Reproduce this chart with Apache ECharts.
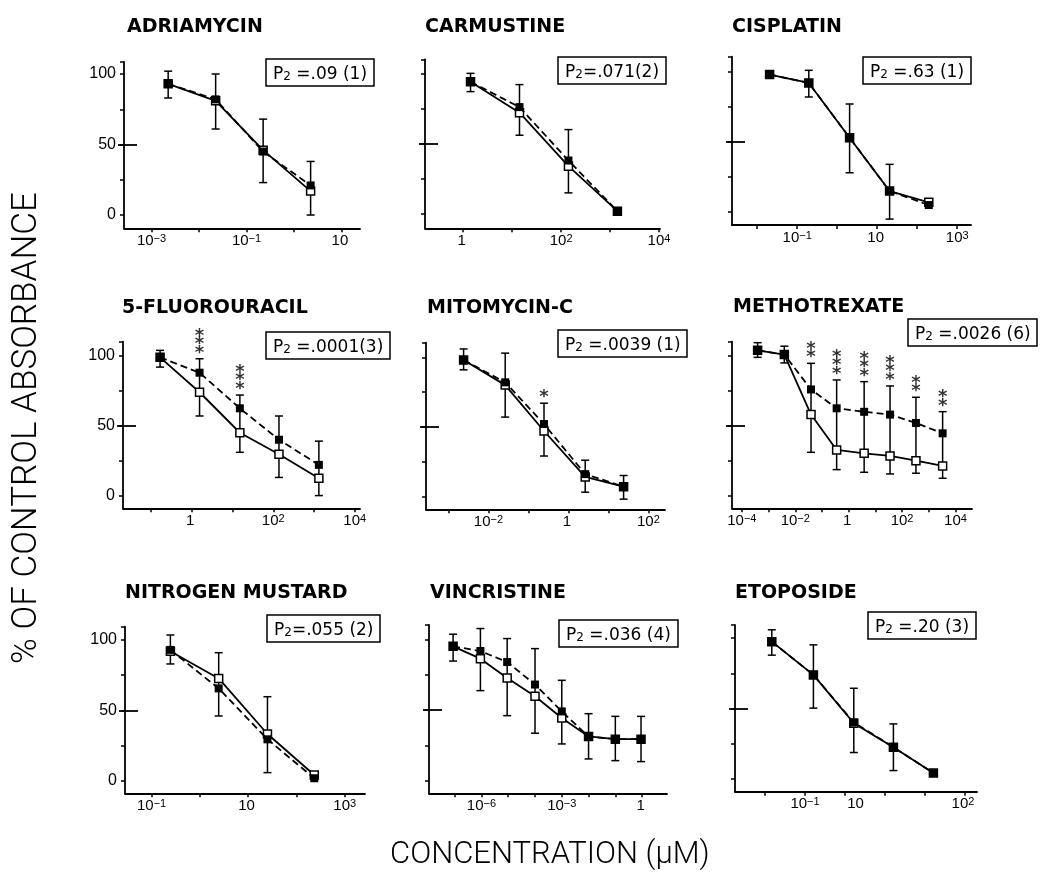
<!DOCTYPE html>
<html><head><meta charset="utf-8">
<script src="https://cdn.jsdelivr.net/npm/echarts@6/dist/echarts.min.js"></script>
<style>html,body{margin:0;padding:0;background:#fff}#c{width:1042px;height:874px}</style>
</head><body><div id="c"></div>
<script>
// ---------------- DATA ----------------
const drugNames = ['ADRIAMYCIN','CARMUSTINE','CISPLATIN','5-FLUOROURACIL','MITOMYCIN-C','METHOTREXATE','NITROGEN MUSTARD','VINCRISTINE','ETOPOSIDE'];
const pValueTexts = [' =.09 (1)','=.071(2)',' =.63 (1)',' =.0001(3)',' =.0039 (1)',' =.0026 (6)','=.055 (2)',' =.036 (4)',' =.20 (3)'];
const yTickValues = [0, 25, 50, 75, 100];
const yLabelValues = [0, 50, 100];

// x values are log10 of concentration (µM)
const adriamycinLogConc = [-2.65, -1.65, -0.65, 0.35];
const adriamycinFilled  = [93, 82, 45, 21];
const adriamycinOpen    = [93, 81, 46, 17];
const adriamycinErrLow  = [83, 61, 23, 0];
const adriamycinErrHigh = [102, 100, 68, 38];
const adriamycinStars   = [0, 0, 0, 0];
const adriamycinTicks   = [-3, -2, -1, 0, 1];
const adriamycinLabelAt = [-3, -1, 1];
const adriamycinLabels  = ['10^-3', '10^-1', '10'];

const carmustineLogConc = [0.15, 1.15, 2.15, 3.15];
const carmustineFilled  = [94, 76, 38, 2];
const carmustineOpen    = [94, 72, 34, 2];
const carmustineErrLow  = [87, 56, 15, null];
const carmustineErrHigh = [100, 92, 60, null];
const carmustineStars   = [0, 0, 0, 0];
const carmustineTicks   = [0, 1, 2, 3, 4];
const carmustineLabelAt = [0, 2, 4];
const carmustineLabels  = ['1', '10^2', '10^4'];

const cisplatinLogConc = [-1.69, -0.71, 0.31, 1.31, 2.29];
const cisplatinFilled  = [98, 92, 53, 15, 5];
const cisplatinOpen    = [98, 92, 53, 15, 7];
const cisplatinErrLow  = [null, 82, 28, -5, null];
const cisplatinErrHigh = [null, 101, 77, 34, null];
const cisplatinStars   = [0, 0, 0, 0, 0];
const cisplatinTicks   = [-2, -1, 0, 1, 2, 3];
const cisplatinLabelAt = [-1, 1, 3];
const cisplatinLabels  = ['10^-1', '10', '10^3'];

const fluorouracilLogConc = [-0.78, 0.19, 1.18, 2.14, 3.12];
const fluorouracilFilled  = [99, 88, 62.5, 40, 22];
const fluorouracilOpen    = [99, 74, 45, 29.6, 12.4];
const fluorouracilErrLow  = [92, 57, 31, 13, 0];
const fluorouracilErrHigh = [104, 98, 72, 57, 39];
const fluorouracilStars   = [0, 3, 3, 0, 0];
const fluorouracilTicks   = [-1, 0, 1, 2, 3, 4];
const fluorouracilLabelAt = [0, 2, 4];
const fluorouracilLabels  = ['1', '10^2', '10^4'];

const mitomycinLogConc = [-2.62, -1.58, -0.61, 0.42, 1.38];
const mitomycinFilled  = [98, 82, 52, 16, 7];
const mitomycinOpen    = [98, 80, 47, 14, 7];
const mitomycinErrLow  = [91, 57, 29, 3, -2];
const mitomycinErrHigh = [106, 103, 67, 26, 15];
const mitomycinStars   = [0, 0, 1, 0, 0];
const mitomycinTicks   = [-3, -2, -1, 0, 1, 2];
const mitomycinLabelAt = [-2, 0, 2];
const mitomycinLabels  = ['10^-2', '1', '10^2'];

const methotrexateLogConc = [-3.41, -2.41, -1.41, -0.45, 0.58, 1.55, 2.52, 3.52];
const methotrexateFilled  = [104, 101, 76, 62.5, 60, 58, 52, 44.6];
const methotrexateOpen    = [104, 101, 58, 32.7, 30.3, 28.4, 25, 21.2];
const methotrexateErrLow  = [99, 95, 31, 18.6, 16.7, 15.5, 16, 12.4];
const methotrexateErrHigh = [109.5, 107, 94.7, 82.8, 81.6, 78.5, 70.4, 60.1];
const methotrexateStars   = [0, 0, 2, 3, 3, 3, 2, 2];
const methotrexateTicks   = [-4, -3, -2, -1, 0, 1, 2, 3, 4];
const methotrexateLabelAt = [-4, -2, 0, 2, 4];
const methotrexateLabels  = ['10^-4', '10^-2', '1', '10^2', '10^4'];

const mustardLogConc = [-0.61, 0.39, 1.40, 2.37];
const mustardFilled  = [93, 65.6, 29.4, 1.7];
const mustardOpen    = [92, 72.7, 33.2, 4];
const mustardErrLow  = [83, 46, 5.7, null];
const mustardErrHigh = [103.6, 91, 59.7, null];
const mustardStars   = [0, 0, 0, 0];
const mustardTicks   = [-1, 0, 1, 2, 3];
const mustardLabelAt = [-1, 1, 3];
const mustardLabels  = ['10^-1', '10', '10^3'];

const vincristineLogConc = [-7.06, -6.04, -5.04, -4, -3, -2, -1, -0.04];
const vincristineFilled  = [95, 91.7, 83.9, 68, 49, 31.3, 29.4, 29.4];
const vincristineOpen    = [95, 86.3, 72.7, 59.7, 44.3, 31.3, 29.4, 29.4];
const vincristineErrLow  = [84.6, 63.7, 46, 33.6, 26, 15.4, 14.2, 13.5];
const vincristineErrHigh = [103.6, 107.6, 100.5, 93.4, 71, 47.4, 45.5, 45.5];
const vincristineStars   = [0, 0, 0, 0, 0, 0, 0, 0];
const vincristineTicks   = [-7, -6, -5, -4, -3, -2, -1, 0];
const vincristineLabelAt = [-6, -3, 0];
const vincristineLabels  = ['10^-6', '10^-3', '1'];

const etoposideLogConc = [-1.83, -0.79, 0.22, 1.21, 2.21];
const etoposideFilled  = [97.6, 74, 40.2, 22.7, 4.3];
const etoposideOpen    = [97.6, 74, 39.7, 22.7, 4.3];
const etoposideErrLow  = [88, 50.4, 18.9, 6.1, null];
const etoposideErrHigh = [106, 95.3, 64.5, 39.2, null];
const etoposideStars   = [0, 0, 0, 0, 0];
const etoposideTicks   = [-2, -1, 0, 1, 2, 3];
const etoposideLabelAt = [-1, 0.3, 2.95];
const etoposideLabels  = ['10^-1', '10', '10^2'];

// ---------------- LAYOUT (pixels / axis extents) ----------------
const layout = [
  {l:124, t:62,    r:360, b:228.3, yMin:-9.4,  yMax:108.5, xMin:-3.58, xMax:1.39, tx:127, ty:18,  bx:266, by:62},
  {l:425, t:59.3,  r:660, b:228.3, yMin:-10.2, yMax:110,   xMin:-0.78, xMax:4.02, tx:425, ty:18,  bx:558, by:60},
  {l:732, t:56.7,  r:971, b:225,   yMin:-9.2,  yMax:110.7, xMin:-2.63, xMax:3.345,tx:732, ty:18,  bx:863, by:60},
  {l:123, t:341.7, r:360, b:508.3, yMin:-9.1,  yMax:110.2, xMin:-1.69, xMax:4.13, tx:122, ty:299, bx:266, by:335},
  {l:426, t:342.7, r:665, b:509.3, yMin:-9.3,  yMax:110.5, xMin:-3.56, xMax:2.415,tx:427, ty:299, bx:558, by:333},
  {l:732, t:341.7, r:972, b:508.3, yMin:-9.1,  yMax:110.2, xMin:-4.37, xMax:4.62, tx:733, ty:298, bx:908, by:322},
  {l:125, t:626.7, r:365, b:793.3, yMin:-9.0,  yMax:109.5, xMin:-1.55, xMax:3.42, tx:125, ty:584, bx:267, by:618},
  {l:429, t:625,   r:667, b:793.3, yMin:-8.9,  yMax:110.1, xMin:-7.96, xMax:0.93, tx:430, ty:584, bx:559, by:623},
  {l:735, t:625,   r:977, b:791.7, yMin:-8.9,  yMax:109.4, xMin:-2.75, xMax:3.3,  tx:735, ty:584, bx:868, by:615}
];

const panels = [
  [adriamycinLogConc, adriamycinFilled, adriamycinOpen, adriamycinErrLow, adriamycinErrHigh, adriamycinStars, adriamycinTicks, adriamycinLabelAt, adriamycinLabels],
  [carmustineLogConc, carmustineFilled, carmustineOpen, carmustineErrLow, carmustineErrHigh, carmustineStars, carmustineTicks, carmustineLabelAt, carmustineLabels],
  [cisplatinLogConc, cisplatinFilled, cisplatinOpen, cisplatinErrLow, cisplatinErrHigh, cisplatinStars, cisplatinTicks, cisplatinLabelAt, cisplatinLabels],
  [fluorouracilLogConc, fluorouracilFilled, fluorouracilOpen, fluorouracilErrLow, fluorouracilErrHigh, fluorouracilStars, fluorouracilTicks, fluorouracilLabelAt, fluorouracilLabels],
  [mitomycinLogConc, mitomycinFilled, mitomycinOpen, mitomycinErrLow, mitomycinErrHigh, mitomycinStars, mitomycinTicks, mitomycinLabelAt, mitomycinLabels],
  [methotrexateLogConc, methotrexateFilled, methotrexateOpen, methotrexateErrLow, methotrexateErrHigh, methotrexateStars, methotrexateTicks, methotrexateLabelAt, methotrexateLabels],
  [mustardLogConc, mustardFilled, mustardOpen, mustardErrLow, mustardErrHigh, mustardStars, mustardTicks, mustardLabelAt, mustardLabels],
  [vincristineLogConc, vincristineFilled, vincristineOpen, vincristineErrLow, vincristineErrHigh, vincristineStars, vincristineTicks, vincristineLabelAt, vincristineLabels],
  [etoposideLogConc, etoposideFilled, etoposideOpen, etoposideErrLow, etoposideErrHigh, etoposideStars, etoposideTicks, etoposideLabelAt, etoposideLabels]
];

// ---------------- BUILD ----------------
const BLACK = '#000';
const grids = [], xAxes = [], yAxes = [], series = [], titles = [];

function richLabel(t) {
  if (t.indexOf('^') >= 0) {
    const parts = t.split('^');
    return '{b|' + parts[0] + '}{s|' + parts[1].replace('-', '\u2212') + '}';
  }
  return '{b|' + t + '}{s| }';
}

panels.forEach((p, i) => {
  const [xs, filled, open, lo, hi, stars, ticks, labelAt, labels] = p;
  const L = layout[i];
  const col = i % 3;
  grids.push({left: L.l, top: L.t, width: L.r - L.l, height: L.b - L.t});
  xAxes.push({
    gridIndex: i, type: 'value', min: L.xMin, max: L.xMax, position: 'bottom',
    axisLine: {show: true, onZero: false, lineStyle: {color: BLACK, width: 1.8}},
    axisTick: {show: true, customValues: ticks, length: 4, lineStyle: {color: BLACK, width: 1.5}},
    axisLabel: {
      show: true, customValues: labelAt, margin: 5, color: BLACK,
      formatter: v => {
        const k = labelAt.findIndex(a => Math.abs(a - v) < 1e-6);
        return k >= 0 ? richLabel(labels[k]) : '';
      },
      rich: {
        b: {fontSize: 15, fontFamily: 'Liberation Sans', color: BLACK, verticalAlign: 'bottom', lineHeight: 15},
        s: {fontSize: 11, fontFamily: 'Liberation Sans', color: BLACK, verticalAlign: 'top', lineHeight: 11, padding: [0, 0, 10, 0]}
      }
    },
    splitLine: {show: false}
  });
  yAxes.push({
    gridIndex: i, type: 'value', min: L.yMin, max: L.yMax, position: 'left',
    axisLine: {show: true, onZero: false, lineStyle: {color: BLACK, width: 1.8}},
    axisTick: {show: true, customValues: yTickValues.concat([L.yMax]), length: 4, lineStyle: {color: BLACK, width: 1.5}},
    axisLabel: {show: col === 0, customValues: yLabelValues, margin: 8, fontSize: 16, fontFamily: 'Liberation Sans', color: BLACK},
    splitLine: {show: false}
  });
  // long tick at 50 that crosses the axis
  yAxes.push({
    gridIndex: i, type: 'value', min: L.yMin, max: L.yMax, position: 'left', offset: -13,
    axisLine: {show: false, onZero: false},
    axisTick: {show: true, customValues: [50], length: 19, lineStyle: {color: BLACK, width: 1.8}},
    axisLabel: {show: false},
    splitLine: {show: false}
  });
  const yi = 2 * i;
  const errData = [];
  xs.forEach((x, k) => { if (lo[k] != null && hi[k] != null) errData.push([x, lo[k], hi[k]]); });
  series.push({
    type: 'custom', xAxisIndex: i, yAxisIndex: yi, silent: true, z: 2,
    data: errData, encode: {x: 0, y: [1, 2]},
    renderItem: (params, api) => {
      const a = api.coord([api.value(0), api.value(1)]);
      const b = api.coord([api.value(0), api.value(2)]);
      const w = 4, st = {stroke: BLACK, lineWidth: 1.5};
      return {type: 'group', children: [
        {type: 'line', shape: {x1: a[0], y1: a[1], x2: b[0], y2: b[1]}, style: st},
        {type: 'line', shape: {x1: a[0] - w, y1: a[1], x2: a[0] + w, y2: a[1]}, style: st},
        {type: 'line', shape: {x1: b[0] - w, y1: b[1], x2: b[0] + w, y2: b[1]}, style: st}
      ]};
    }
  });
  series.push({
    type: 'line', xAxisIndex: i, yAxisIndex: yi, z: 3, silent: true,
    data: xs.map((x, k) => [x, open[k]]),
    symbol: 'rect', symbolSize: 8, showAllSymbol: true,
    itemStyle: {color: '#fff', borderColor: BLACK, borderWidth: 1.5},
    lineStyle: {color: BLACK, width: 1.8}
  });
  series.push({
    type: 'line', xAxisIndex: i, yAxisIndex: yi, z: 4, silent: true,
    data: xs.map((x, k) => [x, filled[k]]),
    symbol: 'rect', symbolSize: 8, showAllSymbol: true,
    itemStyle: {color: BLACK},
    lineStyle: {color: BLACK, width: 1.8, type: [7, 4]}
  });
  const starData = [];
  xs.forEach((x, k) => { if (stars[k] > 0) starData.push([x, hi[k], stars[k]]); });
  if (starData.length) {
    series.push({
      type: 'scatter', xAxisIndex: i, yAxisIndex: yi, z: 5, silent: true,
      data: starData, symbolSize: 1, itemStyle: {color: 'rgba(0,0,0,0)'},
      label: {
        show: true, position: 'top', distance: 1,
        formatter: q => Array(q.value[2]).fill('*').join('\n'),
        fontSize: 18, fontWeight: 'bold', lineHeight: 8.5, color: BLACK, fontFamily: 'DejaVu Sans'
      }
    });
  }
  titles.push({
    text: drugNames[i], left: L.tx, top: L.ty, padding: 0,
    textStyle: {fontFamily: 'DejaVu Sans', fontWeight: 'bold', fontSize: 19, color: BLACK}
  });
  titles.push({
    text: '{p|P}{sub|2}{p|' + pValueTexts[i] + '}', left: L.bx, top: L.by, padding: [4, 7, 3, 7],
    borderColor: BLACK, borderWidth: 1.5, backgroundColor: '#fff',
    textStyle: {
      fontWeight: 'normal',
      rich: {
        p: {fontFamily: 'DejaVu Sans', fontWeight: 'normal', fontSize: 17, color: BLACK, verticalAlign: 'top', lineHeight: 17},
        sub: {fontFamily: 'DejaVu Sans', fontWeight: 'normal', fontSize: 12, color: BLACK, verticalAlign: 'bottom', lineHeight: 12, padding: [8, 0, 0, 0]}
      }
    }
  });
});

titles.push({
  text: 'CONCENTRATION (\u03bcM)', left: 390, top: 840, padding: 0,
  textStyle: {fontFamily: 'Roboto', fontWeight: 300, fontSize: 31, color: BLACK}
});

const chart = echarts.init(document.getElementById('c'), null, {renderer: 'canvas'});
chart.setOption({
  animation: false,
  backgroundColor: '#fff',
  title: titles,
  grid: grids,
  xAxis: xAxes,
  yAxis: yAxes,
  series: series,
  graphic: [{
    type: 'text', x: 27, y: 428, rotation: Math.PI / 2,
    style: {text: '% OF CONTROL ABSORBANCE', fontFamily: 'Roboto', fontWeight: 300, fontSize: 35, fill: BLACK, align: 'center', verticalAlign: 'middle'}
  }]
});
</script>
</body></html>
